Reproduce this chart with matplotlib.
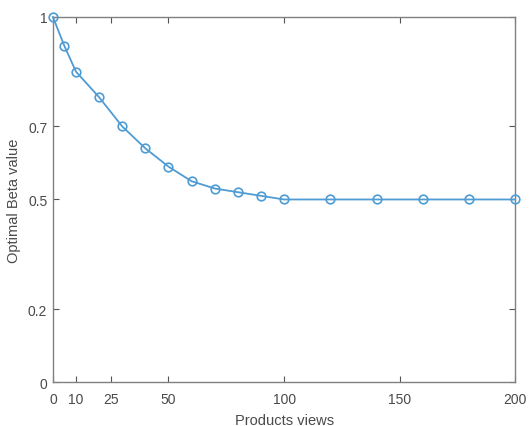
import matplotlib
matplotlib.use("Agg")
import matplotlib.pyplot as plt

views = [0, 5, 10, 20, 30, 40, 50, 60, 70, 80, 90, 100, 120, 140, 160, 180, 200]
beta = [1.0, 0.92, 0.85, 0.78, 0.70, 0.64, 0.59, 0.55, 0.53, 0.52, 0.51, 0.50, 0.50, 0.50, 0.50, 0.50, 0.50]
xticks = [0, 10, 25, 50, 100, 150, 200]
yticks = [0, 0.2, 0.5, 0.7, 1]
ytick_labels = ["0", "0.2", "0.5", "0.7", "1"]

plt.rcParams['font.family'] = ['Liberation Sans', 'DejaVu Sans']
txt = '#4a4a4a'
fig = plt.figure(figsize=(5.29, 4.27), dpi=100)
ax = fig.add_axes([0.100, 0.103, 0.874, 0.855])
ax.plot(views, beta, color='#4f9bd4', lw=1.3, marker='o', ms=6.2,
        mfc='none', mec='#4f9bd4', mew=1.2, clip_on=False, zorder=3)
ax.set_xlim(0, 200)
ax.set_ylim(0, 1)
ax.set_xticks(xticks)
ax.set_yticks(yticks)
ax.set_yticklabels(ytick_labels)
ax.tick_params(axis='both', direction='in', top=True, right=True, length=4, width=0.8,
               colors='#555555', labelcolor=txt, labelsize=10)
ax.tick_params(axis='x', pad=7)
ax.tick_params(axis='y', pad=4)
for s in ax.spines.values():
    s.set_color('#808080')
    s.set_linewidth(1.0)
ax.set_xlabel('Products views', fontsize=10.5, color=txt, labelpad=5)
ax.set_ylabel('Optimal Beta value', fontsize=10.5, color=txt, labelpad=5)
fig.savefig('out.png', dpi=100)
